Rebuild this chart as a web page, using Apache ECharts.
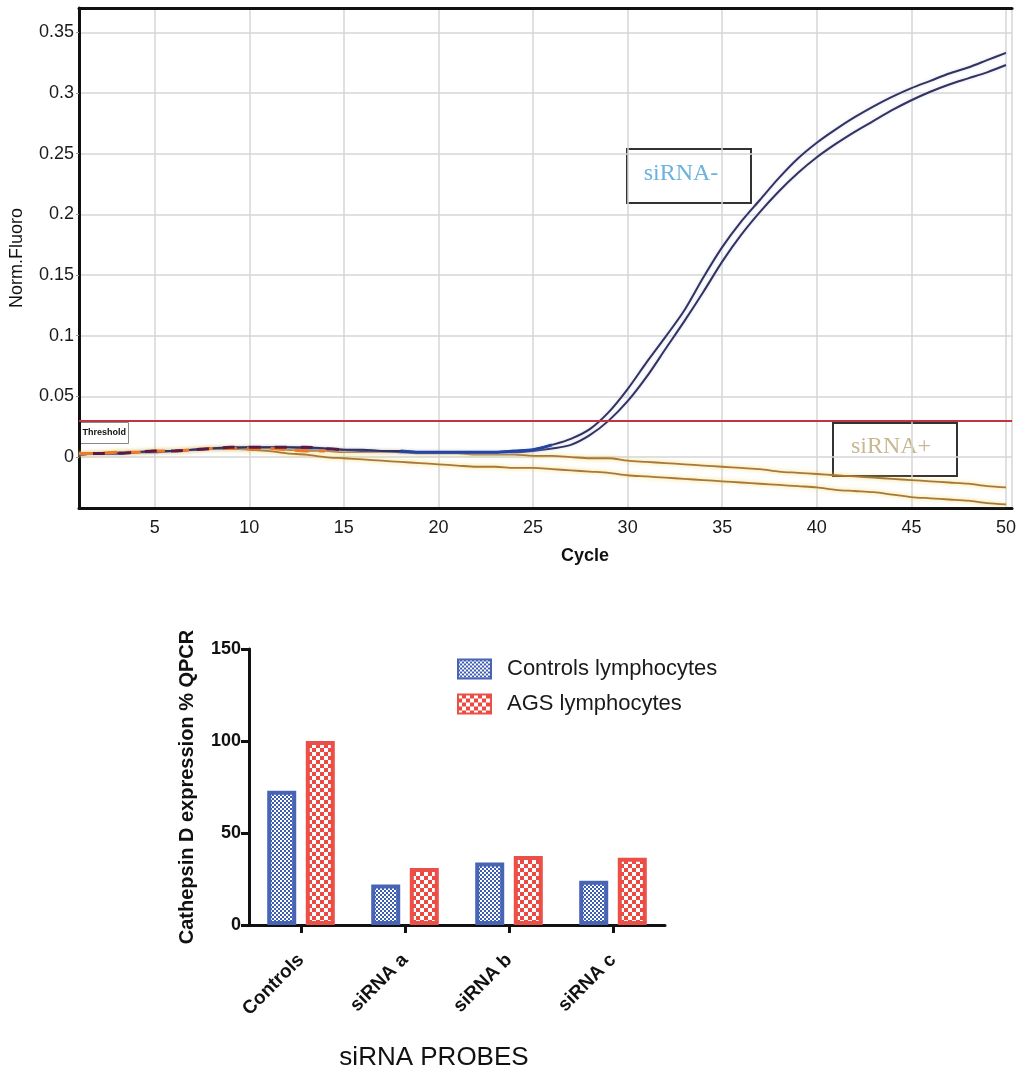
<!DOCTYPE html>
<html>
<head>
<meta charset="utf-8">
<script src="https://cdn.jsdelivr.net/npm/echarts@6/dist/echarts.min.js"></script>
<style>
html,body{margin:0;padding:0;background:#fff;}
#chart{width:1019px;height:1072px;}
</style>
</head>
<body>
<div id="chart"></div>
<script>
// ---------- Top chart data (qPCR amplification curves) ----------
const cycles = [1,2,3,4,5,6,7,8,9,10,11,12,13,14,15,16,17,18,19,20,21,22,23,24,25,26,27,28,29,30,31,32,33,34,35,36,37,38,39,40,41,42,43,44,45,46,47,48,49,50];
const siRNAminusA = [0.002,0.003,0.003,0.004,0.005,0.005,0.006,0.007,0.008,0.008,0.008,0.008,0.008,0.007,0.006,0.006,0.005,0.005,0.004,0.004,0.004,0.004,0.004,0.005,0.006,0.010,0.015,0.023,0.037,0.056,0.078,0.099,0.121,0.148,0.173,0.194,0.212,0.230,0.246,0.259,0.270,0.280,0.289,0.297,0.304,0.310,0.316,0.321,0.327,0.333];
const siRNAminusB = [0.002,0.003,0.003,0.004,0.004,0.005,0.006,0.007,0.007,0.008,0.008,0.008,0.007,0.007,0.006,0.005,0.005,0.004,0.004,0.004,0.004,0.004,0.004,0.004,0.005,0.007,0.010,0.018,0.030,0.046,0.066,0.089,0.112,0.136,0.161,0.183,0.202,0.219,0.234,0.247,0.258,0.268,0.277,0.286,0.294,0.301,0.307,0.312,0.317,0.323];
const siRNAplusA = [0.003,0.003,0.004,0.004,0.005,0.005,0.006,0.007,0.007,0.007,0.007,0.006,0.005,0.005,0.004,0.004,0.004,0.004,0.003,0.003,0.003,0.002,0.002,0.002,0.001,0.001,0.000,-0.001,-0.001,-0.003,-0.004,-0.005,-0.006,-0.007,-0.008,-0.009,-0.010,-0.012,-0.013,-0.014,-0.015,-0.016,-0.017,-0.018,-0.019,-0.020,-0.021,-0.022,-0.024,-0.025];
const siRNAplusB = [0.002,0.003,0.004,0.004,0.005,0.005,0.006,0.007,0.007,0.006,0.005,0.003,0.002,0.000,-0.001,-0.002,-0.003,-0.004,-0.005,-0.006,-0.007,-0.008,-0.008,-0.009,-0.009,-0.010,-0.011,-0.012,-0.013,-0.015,-0.016,-0.017,-0.018,-0.019,-0.020,-0.021,-0.022,-0.023,-0.024,-0.025,-0.027,-0.028,-0.029,-0.031,-0.033,-0.034,-0.035,-0.036,-0.038,-0.039];
const thresholdValue = 0.0305;
const greenLineValue = 0.033;

// ---------- Bottom chart data (bar chart) ----------
const probes = ['Controls','siRNA a','siRNA b','siRNA c'];
const controlsLymphocytes = [73, 22, 34, 24];
const agsLymphocytes = [100, 31, 37.5, 36.5];
const barTicks = [0, 50, 100, 150];

function pts(arr, from, to){
  const out = [];
  for (let i = from; i <= to; i++) out.push([cycles[i], arr[i]]);
  return out;
}

function checker(cell, color){
  const c = document.createElement('canvas');
  c.width = cell * 2; c.height = cell * 2;
  const g = c.getContext('2d');
  g.fillStyle = color; g.fillRect(0, 0, cell * 2, cell * 2);
  g.fillStyle = '#ffffff';
  g.fillRect(0, 0, cell, cell);
  g.fillRect(cell, cell, cell, cell);
  return {image: c, repeat: 'repeat'};
}

const FONT = "'Liberation Sans', Arial, sans-serif";
const SERIF = "'Liberation Serif', 'Times New Roman', serif";
const chart = echarts.init(document.getElementById('chart'), null, {renderer:'canvas'});

const navy = '#34335f';
const brown = '#a8773a';
const bluePattern = checker(2, '#3d5db3');
const redPattern = checker(4, '#ea4a41');

const option = {
  animation:false,
  backgroundColor:'#ffffff',
  textStyle:{fontFamily:FONT},
  grid:[
    {left:79, top:8, width:940, height:500},
    {left:249, top:649, width:416, height:276}
  ],
  legend:{
    data:['Controls lymphocytes','AGS lymphocytes'],
    orient:'vertical', left:452, top:653,
    itemWidth:33, itemHeight:19, itemGap:13,
    icon:'rect',
    textStyle:{fontSize:22, color:'#1a1a1a', fontFamily:FONT, padding:[0,0,0,11]}
  },
  xAxis:[
    {gridIndex:0, type:'value', min:1, max:50.32, splitNumber:10,
     axisLine:{show:true, onZero:false, lineStyle:{color:'#111', width:3}},
     axisTick:{show:false},
     axisLabel:{showMinLabel:false, showMaxLabel:false, fontSize:18, color:'#1a1a1a', margin:11, fontFamily:FONT},
     splitLine:{show:true, lineStyle:{color:'#d6d6d6', width:1.5}}},
    {gridIndex:0, type:'value', position:'top', min:1, max:50.32,
     axisLine:{show:true, onZero:false, lineStyle:{color:'#111', width:3}},
     axisTick:{show:false}, axisLabel:{show:false}, splitLine:{show:false}},
    {gridIndex:1, type:'category', data:probes,
     axisLine:{show:true, lineStyle:{color:'#111', width:3}},
     axisTick:{show:true, alignWithLabel:true, length:8, lineStyle:{color:'#111', width:3}},
     axisLabel:{rotate:45, fontSize:19, fontWeight:'bold', color:'#111', margin:32, fontFamily:FONT}}
  ],
  yAxis:[
    {gridIndex:0, type:'value', min:-0.042, max:0.37, splitNumber:8,
     name:'Norm.Fluoro', nameLocation:'middle', nameGap:53,
     nameTextStyle:{fontSize:18, color:'#111', fontFamily:FONT},
     axisLine:{show:true, onZero:false, lineStyle:{color:'#111', width:3}},
     axisTick:{show:true, length:3, lineStyle:{color:'#999'}},
     axisLabel:{showMinLabel:false, showMaxLabel:false, fontSize:18, color:'#1a1a1a', margin:5, fontFamily:FONT},
     splitLine:{show:true, lineStyle:{color:'#d6d6d6', width:1.5}}},
    {gridIndex:1, type:'value', min:barTicks[0], max:barTicks[barTicks.length-1], interval:50,
     name:'Cathepsin D expression % QPCR', nameLocation:'middle', nameGap:52,
     nameTextStyle:{fontSize:20, fontWeight:'bold', color:'#111', fontFamily:FONT},
     axisLine:{show:true, lineStyle:{color:'#111', width:3}},
     axisTick:{show:true, length:8, lineStyle:{color:'#111', width:3}},
     axisLabel:{fontSize:18, fontWeight:'bold', color:'#111', margin:8, fontFamily:FONT},
     splitLine:{show:false}}
  ],
  series:[
    {type:'line', xAxisIndex:0, yAxisIndex:0, data:pts(siRNAplusA,0,49), showSymbol:false, smooth:0.3,
     lineStyle:{color:brown, width:1.8, shadowColor:'rgba(240,210,80,0.9)', shadowBlur:4}, z:3,
     markLine:{silent:true, symbol:'none', label:{show:false}, animation:false,
       data:[{yAxis:greenLineValue, lineStyle:{color:'#b4e0b0', width:2, type:'solid'}},
             {yAxis:thresholdValue, lineStyle:{color:'#c4343e', width:2, type:'solid'}}]}},
    {type:'line', xAxisIndex:0, yAxisIndex:0, data:pts(siRNAplusB,0,49), showSymbol:false, smooth:0.3,
     lineStyle:{color:brown, width:1.8, shadowColor:'rgba(240,210,80,0.9)', shadowBlur:4}, z:3},
    {type:'line', xAxisIndex:0, yAxisIndex:0, data:pts(siRNAminusB,0,49), showSymbol:false, smooth:0.3,
     lineStyle:{color:navy, width:2, shadowColor:'rgba(200,210,240,0.8)', shadowBlur:3}, z:4},
    {type:'line', xAxisIndex:0, yAxisIndex:0, data:pts(siRNAminusA,0,49), showSymbol:false, smooth:0.3,
     lineStyle:{color:navy, width:2, shadowColor:'rgba(200,210,240,0.8)', shadowBlur:3}, z:4},
    // coloured baseline overlays (other traces coinciding with the baseline)
    {type:'line', xAxisIndex:0, yAxisIndex:0, data:pts(siRNAplusA,0,13), showSymbol:false, smooth:0.3,
     lineStyle:{color:'#f07828', width:3, type:[14,10]}, z:5},
    {type:'line', xAxisIndex:0, yAxisIndex:0, data:pts(siRNAminusA,0,14), showSymbol:false, smooth:0.3,
     lineStyle:{color:'#5a1a46', width:3, type:[12,14], dashOffset:12}, z:5},
    {type:'line', xAxisIndex:0, yAxisIndex:0, data:pts(siRNAminusA,17,25), showSymbol:false, smooth:0.3,
     lineStyle:{color:'#2545a5', width:3}, z:5},
    // bars
    {name:'Controls lymphocytes', type:'bar', xAxisIndex:2, yAxisIndex:1, data:controlsLymphocytes,
     barWidth:29, barGap:'33%',
     itemStyle:{color:bluePattern, borderColor:'#4864b4', borderWidth:4}},
    {name:'AGS lymphocytes', type:'bar', xAxisIndex:2, yAxisIndex:1, data:agsLymphocytes,
     barWidth:29, barGap:'33%',
     itemStyle:{color:redPattern, borderColor:'#ea5047', borderWidth:4}}
  ],
  graphic:[
    {type:'group', left:80, top:422, z:20, children:[
      {type:'rect', shape:{x:0, y:0, width:48, height:21}, style:{fill:'#fff', stroke:'#888', lineWidth:1}},
      {type:'text', x:2, y:10.5, style:{text:'Threshold', font:'bold 9px '+FONT, fill:'#111', verticalAlign:'middle'}}
    ]},
    {type:'group', left:626, top:148, z:20, children:[
      {type:'rect', shape:{x:0, y:0, width:124, height:54}, style:{fill:'#fff', stroke:'#333', lineWidth:2}},
      {type:'text', x:54, y:25, style:{text:'siRNA-', font:'24px '+SERIF, fill:'#6cb2df', align:'center', verticalAlign:'middle'}}
    ]},
    {type:'group', left:832, top:422, z:20, children:[
      {type:'rect', shape:{x:0, y:0, width:124, height:53}, style:{fill:'#fff', stroke:'#333', lineWidth:2}},
      {type:'text', x:58, y:24, style:{text:'siRNA+', font:'24px '+SERIF, fill:'#c8b892', align:'center', verticalAlign:'middle'}}
    ]},
    {type:'text', x:585, y:556, z:20, style:{text:'Cycle', font:'bold 18px '+FONT, fill:'#111', align:'center', verticalAlign:'middle'}},
    {type:'text', x:434, y:1058, z:20, style:{text:'siRNA PROBES', font:'26px '+FONT, fill:'#111', align:'center', verticalAlign:'middle'}}
  ]
};
chart.setOption(option);
</script>
</body>
</html>
